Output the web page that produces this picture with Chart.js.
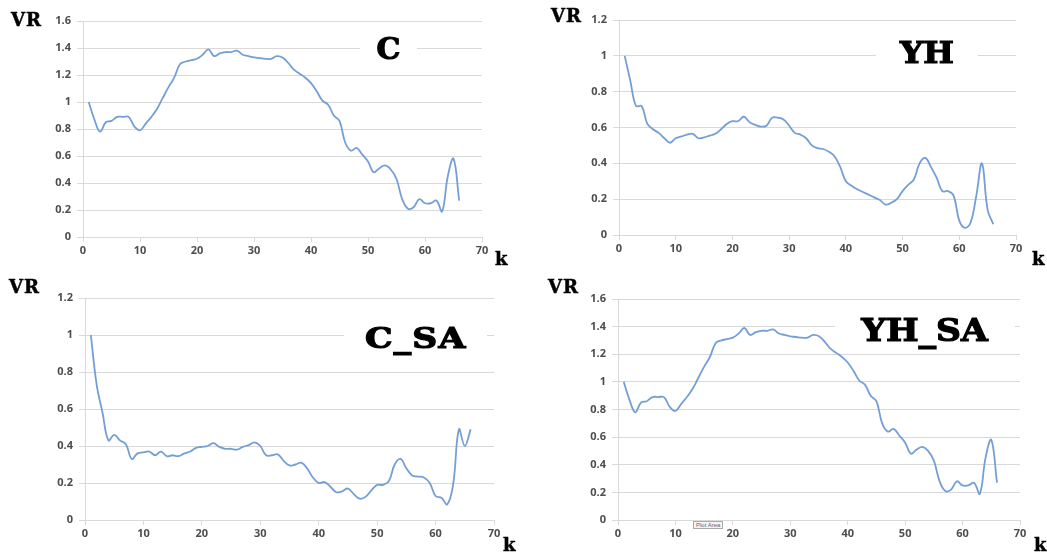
<!DOCTYPE html>
<html>
<head>
<meta charset="utf-8">
<script src="https://cdn.jsdelivr.net/npm/chart.js@4"></script>
<style>
  body { margin: 0; background: #fff; }
  #page { position: relative; width: 1047px; height: 554px; overflow: hidden; }
  canvas { position: absolute; }
  .ttl { position: absolute; background: #fff; text-align: center; font-family: "DejaVu Serif", serif; font-weight: bold; line-height: 1; color: #000; }
  .ttl span { display: inline-block; -webkit-text-stroke: 1.2px #000; }
  .ax { position: absolute; font-family: "DejaVu Serif", serif; font-weight: bold; line-height: 1; color: #000; -webkit-text-stroke: 0.5px #000; }
  .tag { position: absolute; font: 6px "Liberation Sans", sans-serif; color: #666; border: 1px solid #aaa; background: #f4f4f4; padding: 0 2px; }
</style>
</head>
<body>
<div id="page">
  <canvas id="chartC" width="520" height="270" style="left:0;top:0"></canvas>
  <canvas id="chartYH" width="520" height="270" style="left:527px;top:0"></canvas>
  <canvas id="chartCSA" width="520" height="279" style="left:0;top:275px"></canvas>
  <canvas id="chartYHSA" width="520" height="279" style="left:527px;top:275px"></canvas>

  <div class="ttl" style="left:360px;top:34px;width:57px;font-size:30px"><span>C</span></div>
  <div class="ttl" style="left:876px;top:38px;width:102px;font-size:30px"><span style="transform:scaleX(1.08)">YH</span></div>
  <div class="ttl" style="left:344px;top:325px;width:143px;font-size:27px"><span style="transform:scaleX(1.28);letter-spacing:1px">C_SA</span></div>
  <div class="ttl" style="left:835px;top:314px;width:180px;font-size:32px"><span style="transform:scaleX(1.08)">YH_SA</span></div>

  <div class="ax" style="left:11px;top:11px;font-size:18px;letter-spacing:1px">VR</div>
  <div class="ax" style="left:551px;top:7px;font-size:18px;letter-spacing:1px">VR</div>
  <div class="ax" style="left:9px;top:278px;font-size:18px;letter-spacing:1px">VR</div>
  <div class="ax" style="left:548px;top:278px;font-size:18px;letter-spacing:1px">VR</div>

  <div class="ax" style="left:495px;top:250px;font-size:18px">k</div>
  <div class="ax" style="left:1032px;top:250px;font-size:18px">k</div>
  <div class="ax" style="left:503px;top:536px;font-size:18px">k</div>
  <div class="ax" style="left:1034px;top:536px;font-size:18px">k</div>

  <div class="tag" style="left:693px;top:521px">Plot Area</div>
</div>
<script>
const kValues = [1, 2, 3, 4, 5, 6, 7, 8, 9, 10, 11, 12, 13, 14, 15, 16, 17, 18, 19, 20,
    21, 22, 23, 24, 25, 26, 27, 28, 29, 30, 31, 32, 33, 34, 35, 36, 37, 38, 39, 40,
    41, 42, 43, 44, 45, 46, 47, 48, 49, 50, 51, 52, 53, 54, 55, 56, 57, 58, 59, 60,
    61, 62, 63, 64, 65, 66]

const vrC = [1.0, 0.87, 0.78, 0.85, 0.86, 0.89, 0.89, 0.89, 0.82, 0.79,
    0.84, 0.89, 0.95, 1.03, 1.11, 1.18, 1.28, 1.30, 1.31, 1.32,
    1.35, 1.39, 1.34, 1.36, 1.37, 1.37, 1.38, 1.35, 1.34, 1.33,
    1.325, 1.32, 1.32, 1.34, 1.33, 1.29, 1.24, 1.21, 1.18, 1.14,
    1.08, 1.01, 0.98, 0.90, 0.86, 0.70, 0.64, 0.66, 0.61, 0.56,
    0.48, 0.51, 0.53, 0.50, 0.43, 0.28, 0.21, 0.22, 0.28, 0.25,
    0.25, 0.27, 0.19, 0.45, 0.58, 0.27]

const vrYH = [1.0, 0.86, 0.72, 0.72, 0.62, 0.59, 0.57, 0.54, 0.515, 0.54,
    0.55, 0.56, 0.565, 0.54, 0.545, 0.555, 0.565, 0.59, 0.62, 0.635,
    0.635, 0.66, 0.63, 0.615, 0.605, 0.61, 0.655, 0.655, 0.645, 0.61,
    0.57, 0.56, 0.54, 0.50, 0.485, 0.48, 0.465, 0.44, 0.38, 0.30,
    0.275, 0.255, 0.24, 0.225, 0.21, 0.195, 0.17, 0.18, 0.20, 0.245,
    0.28, 0.31, 0.40, 0.43, 0.38, 0.32, 0.245, 0.245, 0.22, 0.08,
    0.04, 0.07, 0.22, 0.40, 0.14, 0.06]

const vrCSA = [1.0, 0.73, 0.58, 0.43, 0.46, 0.43, 0.41, 0.33, 0.36, 0.365,
    0.37, 0.35, 0.37, 0.345, 0.35, 0.345, 0.36, 0.37, 0.39, 0.395,
    0.40, 0.415, 0.395, 0.385, 0.385, 0.38, 0.395, 0.405, 0.42, 0.40,
    0.35, 0.35, 0.355, 0.32, 0.295, 0.30, 0.31, 0.28, 0.23, 0.20,
    0.205, 0.18, 0.15, 0.155, 0.17, 0.14, 0.115, 0.125, 0.16, 0.19,
    0.19, 0.21, 0.30, 0.33, 0.28, 0.24, 0.235, 0.23, 0.20, 0.13,
    0.12, 0.085, 0.19, 0.49, 0.40, 0.49]

const vrYHSA = [1.0, 0.87, 0.78, 0.85, 0.86, 0.89, 0.89, 0.89, 0.82, 0.79,
    0.84, 0.89, 0.95, 1.03, 1.11, 1.18, 1.28, 1.30, 1.31, 1.32,
    1.35, 1.39, 1.34, 1.36, 1.37, 1.37, 1.38, 1.35, 1.34, 1.33,
    1.325, 1.32, 1.32, 1.34, 1.33, 1.29, 1.24, 1.21, 1.18, 1.14,
    1.08, 1.01, 0.98, 0.90, 0.86, 0.70, 0.64, 0.66, 0.61, 0.56,
    0.48, 0.51, 0.53, 0.50, 0.43, 0.28, 0.21, 0.22, 0.28, 0.25,
    0.25, 0.27, 0.19, 0.45, 0.58, 0.27]

const lineCol = "#739fd6"
const gridCol = "#d9d9d9"
const tickFont = { family: "'Open Sans', 'Liberation Sans', sans-serif", size: 11, weight: 'bold' }
const tickCol = "#4d4d4d"

// Excel-style labels: 1 instead of 1.0
const fmtTick = (value) => String(Math.round(value * 10) / 10)

const makeChart = (id, values, yMax, yWidth, xHeight, padTop, padRight) => {
    const ctx = document.getElementById(id).getContext('2d')
    return new Chart(ctx, {
        type: 'line',
        data: {
            datasets: [{
                data: kValues.map((k, i) => ({ x: k, y: values[i] })),
                borderColor: lineCol,
                borderWidth: 1.8,
                pointRadius: 0,
                tension: 0.4,
                fill: false
            }]
        },
        options: {
            responsive: false,
            animation: false,
            layout: { padding: { top: padTop, right: padRight, left: 0, bottom: 0 } },
            plugins: {
                legend: { display: false },
                tooltip: { enabled: false }
            },
            scales: {
                x: {
                    type: 'linear',
                    min: 0,
                    max: 70,
                    ticks: { stepSize: 10, font: tickFont, color: tickCol, padding: 2, maxRotation: 0 },
                    grid: { drawOnChartArea: false, tickLength: 5, color: gridCol },
                    border: { color: gridCol },
                    afterFit: (scale) => { scale.height = xHeight }
                },
                y: {
                    min: 0,
                    max: yMax,
                    ticks: { stepSize: 0.2, font: tickFont, color: tickCol, padding: 6, callback: fmtTick },
                    grid: { tickLength: 6, color: gridCol },
                    border: { color: gridCol },
                    afterFit: (scale) => { scale.width = yWidth }
                }
            }
        }
    })
}

makeChart('chartC', vrC, 1.6, 83, 33, 21, 38)
makeChart('chartYH', vrYH, 1.2, 92, 35, 20, 31)
makeChart('chartCSA', vrCSA, 1.2, 85, 34, 23, 26)
makeChart('chartYHSA', vrYHSA, 1.6, 91, 34, 24, 27)
</script>
</body>
</html>
